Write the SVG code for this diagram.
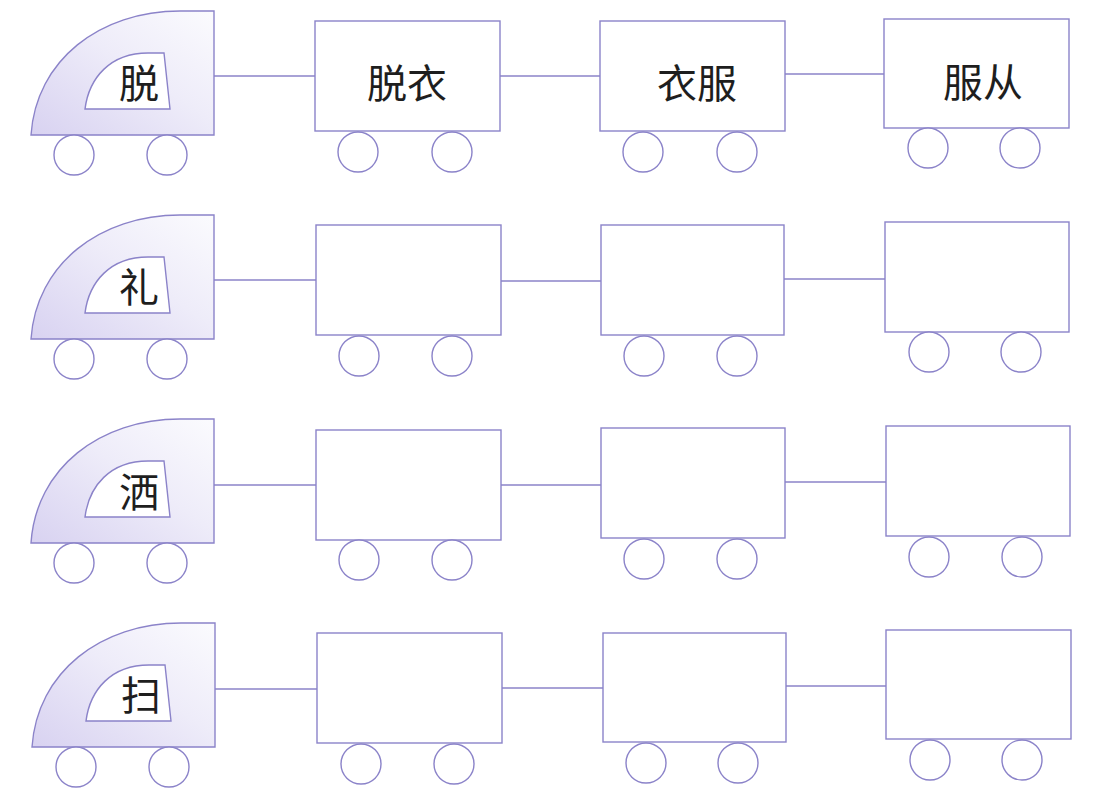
<svg xmlns="http://www.w3.org/2000/svg" width="1113" height="802" viewBox="0 0 1113 802">
<defs>
<linearGradient id="eng" x1="0" y1="1" x2="1" y2="0">
<stop offset="0" stop-color="#d8d2f1"/>
<stop offset="0.55" stop-color="#eeecf9"/>
<stop offset="1" stop-color="#fbfbfe"/>
</linearGradient>
<style>
.ln{stroke:#8b83c9;stroke-width:1.4;fill:none}
.car{stroke:#8b83c9;stroke-width:1.4;fill:#ffffff}
.wh{stroke:#8b83c9;stroke-width:1.4;fill:#ffffff}
.body{stroke:#8b83c9;stroke-width:1.4;fill:url(#eng)}
.win{stroke:#8b83c9;stroke-width:1.4;fill:#ffffff}
.t{font-family:"Noto Sans CJK SC","Noto Sans CJK TC",sans-serif;font-size:40px;fill:#1e1e1e;text-anchor:middle}
</style>
</defs>
<rect width="1113" height="802" fill="#ffffff"/>
<g id="connectors">
<line class="ln" x1="214" y1="76" x2="315" y2="76"/>
<line class="ln" x1="500" y1="76" x2="600" y2="76"/>
<line class="ln" x1="785" y1="74" x2="884" y2="74"/>
<line class="ln" x1="214" y1="280" x2="316" y2="280"/>
<line class="ln" x1="501" y1="281" x2="601" y2="281"/>
<line class="ln" x1="784" y1="279" x2="885" y2="279"/>
<line class="ln" x1="214" y1="485" x2="316" y2="485"/>
<line class="ln" x1="501" y1="485" x2="601" y2="485"/>
<line class="ln" x1="785" y1="482" x2="886" y2="482"/>
<line class="ln" x1="215" y1="689" x2="317" y2="689"/>
<line class="ln" x1="502" y1="688" x2="603" y2="688"/>
<line class="ln" x1="786" y1="686" x2="886" y2="686"/>
</g>
<g id="engine1">
<path class="body" d="M31,135 L214,135 L214,11 L180,11 C100,11 36,60 31,135 Z"/>
<path class="win" d="M85,109 L170,109 L164,53 L148,53 C110,53 89,78 85,109 Z"/>
<circle class="wh" cx="74" cy="155" r="20"/>
<circle class="wh" cx="167" cy="155" r="20"/>
<text class="t" x="139" y="98">脱</text>
</g>
<g id="engine2" transform="translate(0,204)">
<path class="body" d="M31,135 L214,135 L214,11 L180,11 C100,11 36,60 31,135 Z"/>
<path class="win" d="M85,109 L170,109 L164,53 L148,53 C110,53 89,78 85,109 Z"/>
<circle class="wh" cx="74" cy="155" r="20"/>
<circle class="wh" cx="167" cy="155" r="20"/>
<text class="t" x="139" y="98">礼</text>
</g>
<g id="engine3" transform="translate(0,408)">
<path class="body" d="M31,135 L214,135 L214,11 L180,11 C100,11 36,60 31,135 Z"/>
<path class="win" d="M85,109 L170,109 L164,53 L148,53 C110,53 89,78 85,109 Z"/>
<circle class="wh" cx="74" cy="155" r="20"/>
<circle class="wh" cx="167" cy="155" r="20"/>
<text class="t" x="139" y="99">洒</text>
</g>
<g id="engine4" transform="translate(1,612)">
<path class="body" d="M31,135 L214,135 L214,11 L180,11 C100,11 36,60 31,135 Z"/>
<path class="win" d="M85,109 L170,109 L164,53 L148,53 C110,53 89,78 85,109 Z"/>
<circle class="wh" cx="75" cy="155" r="20"/>
<circle class="wh" cx="168" cy="155" r="20"/>
<text class="t" x="140" y="98">扫</text>
</g>
<g id="car1-1">
<rect class="car" x="315" y="21" width="185" height="110"/>
<circle class="wh" cx="358" cy="152" r="20"/>
<circle class="wh" cx="452" cy="152" r="20"/>
<text class="t" x="407" y="98">脱衣</text>
</g>
<g id="car1-2">
<rect class="car" x="600" y="21" width="185" height="110"/>
<circle class="wh" cx="643" cy="152" r="20"/>
<circle class="wh" cx="737" cy="152" r="20"/>
<text class="t" x="697" y="98">衣服</text>
</g>
<g id="car1-3">
<rect class="car" x="884" y="19" width="185" height="109"/>
<circle class="wh" cx="928" cy="148" r="20"/>
<circle class="wh" cx="1020" cy="148" r="20"/>
<text class="t" x="983" y="97">服从</text>
</g>
<g id="car2-1">
<rect class="car" x="316" y="225" width="185" height="110"/>
<circle class="wh" cx="359" cy="356" r="20"/>
<circle class="wh" cx="452" cy="356" r="20"/>
</g>
<g id="car2-2">
<rect class="car" x="601" y="225" width="183" height="110"/>
<circle class="wh" cx="644" cy="356" r="20"/>
<circle class="wh" cx="737" cy="356" r="20"/>
</g>
<g id="car2-3">
<rect class="car" x="885" y="222" width="184" height="110"/>
<circle class="wh" cx="929" cy="352" r="20"/>
<circle class="wh" cx="1021" cy="352" r="20"/>
</g>
<g id="car3-1">
<rect class="car" x="316" y="430" width="185" height="110"/>
<circle class="wh" cx="359" cy="560" r="20"/>
<circle class="wh" cx="452" cy="560" r="20"/>
</g>
<g id="car3-2">
<rect class="car" x="601" y="428" width="184" height="110"/>
<circle class="wh" cx="644" cy="559" r="20"/>
<circle class="wh" cx="737" cy="559" r="20"/>
</g>
<g id="car3-3">
<rect class="car" x="886" y="426" width="184" height="110"/>
<circle class="wh" cx="929" cy="557" r="20"/>
<circle class="wh" cx="1022" cy="557" r="20"/>
</g>
<g id="car4-1">
<rect class="car" x="317" y="633" width="185" height="110"/>
<circle class="wh" cx="361" cy="764" r="20"/>
<circle class="wh" cx="454" cy="764" r="20"/>
</g>
<g id="car4-2">
<rect class="car" x="603" y="633" width="183" height="109"/>
<circle class="wh" cx="646" cy="763" r="20"/>
<circle class="wh" cx="738" cy="763" r="20"/>
</g>
<g id="car4-3">
<rect class="car" x="886" y="630" width="185" height="109"/>
<circle class="wh" cx="930" cy="760" r="20"/>
<circle class="wh" cx="1022" cy="760" r="20"/>
</g>
</svg>
